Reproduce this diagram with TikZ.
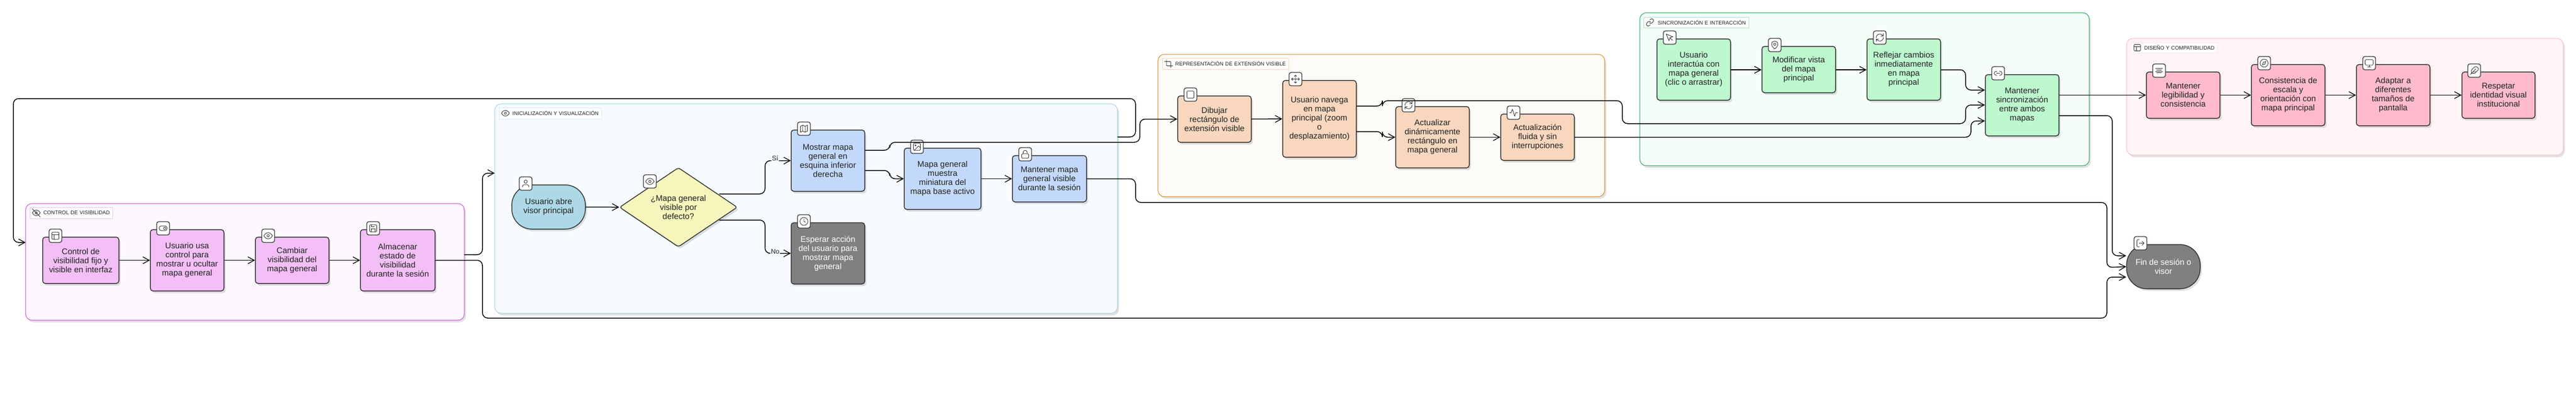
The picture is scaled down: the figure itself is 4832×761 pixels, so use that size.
\documentclass[tikz,border=0pt]{standalone}
\usepackage{fontspec}
\setmainfont{Liberation Sans}
\usetikzlibrary{arrows.meta,shapes.geometric,shadows,calc}
\definecolor{inkc}{HTML}{222222}
\definecolor{linec}{HTML}{333333}
\definecolor{ctrlS}{HTML}{D65FDB}\definecolor{ctrlF}{HTML}{FCF8FE}\definecolor{ctrlN}{HTML}{F3BFF6}
\definecolor{initS}{HTML}{ADD8E6}\definecolor{initF}{HTML}{F7FBFF}\definecolor{initN}{HTML}{C3D9FC}
\definecolor{startN}{HTML}{ADD8E6}\definecolor{decN}{HTML}{F5F5BC}\definecolor{greyN}{HTML}{808080}
\definecolor{extS}{HTML}{D99A3D}\definecolor{extF}{HTML}{FDFBF7}\definecolor{extN}{HTML}{F8D7BE}
\definecolor{synS}{HTML}{3CB371}\definecolor{synF}{HTML}{F5FDF8}\definecolor{synN}{HTML}{BDF8CE}
\definecolor{disS}{HTML}{FFC0CB}\definecolor{disF}{HTML}{FFF5F7}\definecolor{disN}{HTML}{FFBBCB}
\tikzset{
  softshadow/.style={drop shadow={shadow xshift=3pt,shadow yshift=-4pt,opacity=.12,fill=black}},
  groupbox/.style={draw=#1,line width=1.2pt,rounded corners=12pt,softshadow},
  tagbox/.style={draw=#1,line width=.6pt,fill=white,fill opacity=.85,text opacity=1,inner sep=0pt,inner xsep=5pt,
     text=inkc,font=\fontsize{9.8}{12}\selectfont,align=right,minimum height=21pt},
  procbox/.style={rectangle,draw=linec,line width=1.5pt,rounded corners=5pt,inner sep=0pt,align=center,
     text=inkc,font=\fontsize{15.4}{17}\selectfont,softshadow},
  stadium/.style={procbox,rounded corners=38pt},
  choice/.style={diamond,draw=linec,line width=1.5pt,rounded corners=4pt,inner sep=0pt,align=center,fill=decN,
     text=inkc,font=\fontsize{15.4}{17}\selectfont,softshadow},
  iconbox/.style={rectangle,draw=linec,line width=1.3pt,fill=white,rounded corners=4pt,inner sep=0pt,
     minimum width=24pt,minimum height=25pt},
  ic/.style={draw=linec,line width=.9pt,line join=round,line cap=round},
  edge/.style={draw=black,line width=1.5pt,rounded corners=10pt,-{Straight Barb[length=12pt,width=13pt,line width=1.3pt]}},
  edgelabel/.style={fill=initF,inner sep=1pt,text=inkc,font=\fontsize{12.5}{14}\selectfont},
}
% icons, in a 24-unit box
\newcommand{\icLayout}{\draw[ic,rounded corners=1.5pt] (3,3) rectangle (21,21);\draw[ic] (3,9)--(21,9) (9,9)--(9,21);}
\newcommand{\icToggle}{\draw[ic,rounded corners=4pt] (2,6) rectangle (22,18);\draw[ic] (16,12) circle[radius=3];}
\newcommand{\icEye}{\draw[ic] (1,12) .. controls (5,6) and (8,4) .. (12,4) .. controls (16,4) and (19,6) .. (23,12) .. controls (19,18) and (16,20) .. (12,20) .. controls (8,20) and (5,18) .. (1,12) -- cycle;\draw[ic] (12,12) circle[radius=3];}
\newcommand{\icEyeOff}{\icEye\draw[ic] (1,1)--(23,23);}
\newcommand{\icCrop}{\draw[ic] (6.13,1)--(6,16) .. controls (6,17) and (7,18) .. (8,18) -- (23,18) (1,6.13)--(16,6) .. controls (17,6) and (18,7) .. (18,8) -- (18,23);}
\newcommand{\icSave}{\draw[ic,rounded corners=1.5pt] (3,3) rectangle (21,21);\draw[ic] (7,21)--(7,13)--(17,13)--(17,21) (7,3)--(7,8)--(15,8);}
\newcommand{\icUser}{\draw[ic] (12,7) circle[radius=4];\draw[ic] (4,21) -- (4,19) .. controls (4,16.5) and (6,15) .. (8,15) -- (16,15) .. controls (18,15) and (20,16.5) .. (20,19) -- (20,21);}
\newcommand{\icMap}{\draw[ic] (3,6)--(9,3)--(15,6)--(21,3)--(21,18)--(15,21)--(9,18)--(3,21)--cycle (9,3)--(9,18) (15,6)--(15,21);}
\newcommand{\icImage}{\draw[ic,rounded corners=1.5pt] (3,3) rectangle (21,21);\draw[ic] (8.5,8.5) circle[radius=1.7];\draw[ic] (21,15)--(16,10)--(5,21);}
\newcommand{\icLock}{\draw[ic,rounded corners=1.5pt] (3,11) rectangle (21,22);\draw[ic] (7,11)--(7,7) .. controls (7,0.5) and (17,0.5) .. (17,7) -- (17,11);}
\newcommand{\icClock}{\draw[ic] (12,12) circle[radius=10];\draw[ic] (12,6)--(12,12)--(16,14);}
\newcommand{\icSquare}{\draw[ic,rounded corners=2pt] (3,3) rectangle (21,21);}
\newcommand{\icMove}{\draw[ic] (12,2)--(12,22) (2,12)--(22,12) (5,9)--(2,12)--(5,15) (9,5)--(12,2)--(15,5) (15,19)--(12,22)--(9,19) (19,9)--(22,12)--(19,15);}
\newcommand{\icRefresh}{\draw[ic] (21,2)--(21,8)--(15,8) (3,22)--(3,16)--(9,16);\draw[ic] (3,12) .. controls (3,7) and (7,3) .. (12,3) .. controls (14.5,3) and (16.5,4) .. (18,5.3) -- (21,8);\draw[ic] (21,12) .. controls (21,17) and (17,21) .. (12,21) .. controls (9.5,21) and (7.5,20) .. (6,18.7) -- (3,16);}
\newcommand{\icActivity}{\draw[ic] (22,12)--(18,12)--(15,21)--(9,3)--(6,12)--(2,12);}
\newcommand{\icPointer}{\draw[ic] (3,3)--(10.07,19.97)--(12.58,12.58)--(19.97,10.07)--cycle (13,13)--(19,19);}
\newcommand{\icPin}{\draw[ic] (12,22) .. controls (12,22) and (4,16) .. (4,10) .. controls (4,-0.7) and (20,-0.7) .. (20,10) .. controls (20,16) and (12,22) .. (12,22) -- cycle;\draw[ic] (12,10) circle[radius=3];}
\newcommand{\icLinkTwo}{\draw[ic] (9,17)--(7,17) .. controls (0.5,17) and (0.5,7) .. (7,7) -- (9,7) (15,7)--(17,7) .. controls (23.5,7) and (23.5,17) .. (17,17) -- (15,17) (8,12)--(16,12);}
\newcommand{\icLink}{\draw[ic] (10,13) .. controls (12,15.5) and (15.5,15.5) .. (17.5,13.5) -- (20.5,10.5) .. controls (25,5) and (18,-1) .. (13.5,3.5) -- (11.7,5.2);\draw[ic] (14,11) .. controls (12,8.5) and (8.5,8.5) .. (6.5,10.5) -- (3.5,13.5) .. controls (-1,19) and (6,25) .. (10.5,20.5) -- (12.3,18.8);}
\newcommand{\icAlign}{\draw[ic] (18,10)--(6,10) (21,6)--(3,6) (21,14)--(3,14) (18,18)--(6,18);}
\newcommand{\icCompass}{\draw[ic] (12,12) circle[radius=10];\draw[ic] (16.24,7.76)--(14.12,14.12)--(7.76,16.24)--(9.88,9.88)--cycle;}
\newcommand{\icMonitor}{\draw[ic,rounded corners=1.5pt] (2,3) rectangle (22,17);\draw[ic] (8,21)--(16,21) (12,17)--(12,21);}
\newcommand{\icFeather}{\draw[ic] (20.24,12.24) .. controls (23.5,9) and (23.5,6.5) .. (20.24,3.75) .. controls (17.5,1) and (15,1) .. (11.75,3.75) -- (5,10.5) -- (5,19) -- (13.5,19) -- cycle (16,8)--(2,22) (17.5,15)--(9,15);}
\newcommand{\icLogout}{\draw[ic] (9,21)--(5,21) .. controls (4,21) and (3,20) .. (3,19) -- (3,5) .. controls (3,4) and (4,3) .. (5,3) -- (9,3) (16,17)--(21,12)--(16,7) (21,12)--(9,12);}
% node helpers
\newcommand{\putstep}[7]{% name, style, x1,y1,x2,y2, text
  \pgfmathsetmacro{\myW}{#5-#3}\pgfmathsetmacro{\myH}{#6-#4}
  \pgfmathsetmacro{\myX}{(#3+#5)/2}\pgfmathsetmacro{\myY}{(#4+#6)/2}
  \node[#2,minimum width=\myW pt,minimum height=\myH pt] (#1) at (\myX,\myY) {#7};}
\newcommand{\puticon}[4]{% name, x1, y1, icon
  \pgfmathsetmacro{\myX}{#2+12}\pgfmathsetmacro{\myY}{#3+12.5}
  \node[iconbox] (#1) at (\myX,\myY) {};
  \begin{scope}[shift={(\myX,\myY)},x=.74pt,y=-.74pt,shift={(-12,-12)}]#4\end{scope}}
\newcommand{\puttag}[8]{% name, stroke, x1,y1,x2,y2, icon, text
  \pgfmathsetmacro{\myW}{#5-#3-10}\pgfmathsetmacro{\myH}{#6-#4}
  \pgfmathsetmacro{\myX}{(#3+#5)/2}\pgfmathsetmacro{\myY}{(#4+#6)/2}
  \node[tagbox=#2,text width=\myW pt,minimum height=\myH pt] (#1) at (\myX,\myY) {#8};
  \pgfmathsetmacro{\myX}{#3+12}
  \begin{scope}[shift={(\myX,\myY)},x=.68pt,y=-.68pt,shift={(-12,-12)}]#7\end{scope}}
\begin{document}
\begin{tikzpicture}[x=1pt,y=-1pt]
\useasboundingbox (0,0) rectangle (4832,761);
% groups
\path[groupbox=ctrlS,fill=ctrlF] (48,382) rectangle (871,601);
\path[groupbox=initS,fill=initF] (928,195) rectangle (2096,588);
\path[groupbox=extS,fill=extF] (2172,102) rectangle (3010,369);
\path[groupbox=synS,fill=synF] (3076,24) rectangle (3919,311);
\path[groupbox=disS,fill=disF] (3989,72) rectangle (4808,291);
\coordinate (ctrlIn) at (48,455);
\coordinate (ctrlOut) at (871,478);
\coordinate (initIn) at (928,325);
\coordinate (initOut) at (2096,257);
% tags
\puttag{tagCtrl}{ctrlS!40}{56}{389}{211}{410}{\icEyeOff}{CONTROL DE VISIBILIDAD}
\puttag{tagInit}{initS!50}{936}{202}{1128}{223}{\icEye}{INICIALIZACIÓN Y VISUALIZACIÓN}
\puttag{tagExt}{extS!40}{2180}{109}{2417}{130}{\icCrop}{REPRESENTACIÓN DE EXTENSIÓN VISIBLE}
\puttag{tagSyn}{synS!40}{3083}{32}{3280}{52}{\icLink}{SINCRONIZACIÓN E INTERACCIÓN}
\puttag{tagDis}{disS!40}{3997}{80}{4159}{99}{\icLayout}{DISEÑO Y COMPATIBILIDAD}
% control
\putstep{a1}{procbox,fill=ctrlN}{80}{445}{223}{532}{Control de\\visibilidad fijo y\\visible en interfaz}
\putstep{a2}{procbox,fill=ctrlN}{282}{431}{420}{546}{Usuario usa\\control para\\mostrar u ocultar\\mapa general}
\putstep{a3}{procbox,fill=ctrlN}{479}{445}{617}{532}{Cambiar\\visibilidad del\\mapa general}
\putstep{a4}{procbox,fill=ctrlN}{676}{431}{816}{546}{Almacenar\\estado de\\visibilidad\\durante la sesión}
% init
\putstep{start}{stadium,fill=startN}{960}{347}{1098}{430}{Usuario abre\\visor principal}
\putstep{dec}{choice}{1162}{317}{1383}{461}{¿Mapa general\\visible por\\defecto?}
\putstep{show}{procbox,fill=initN}{1484}{244}{1622}{359}{Mostrar mapa\\general en\\esquina inferior\\derecha}
\putstep{wait}{procbox,fill=greyN,text=white}{1484}{418}{1622}{533}{Esperar acción\\del usuario para\\mostrar mapa\\general}
\putstep{mini}{procbox,fill=initN}{1696}{278}{1840}{393}{Mapa general\\muestra\\miniatura del\\mapa base activo}
\putstep{keep}{procbox,fill=initN}{1899}{292}{2038}{379}{Mantener mapa\\general visible\\durante la sesión}
% extent
\putstep{draw}{procbox,fill=extN}{2209}{180}{2347}{267}{Dibujar\\rectángulo de\\extensión visible}
\putstep{nav}{procbox,fill=extN}{2406}{151}{2544}{295}{Usuario navega\\en mapa\\principal (zoom\\o\\desplazamiento)}
\putstep{upd}{procbox,fill=extN}{2618}{200}{2756}{315}{Actualizar\\dinámicamente\\rectángulo en\\mapa general}
\putstep{fluid}{procbox,fill=extN}{2815}{214}{2953}{301}{Actualización\\fluida y sin\\interrupciones}
% sync
\putstep{inter}{procbox,fill=synN}{3108}{73}{3246}{188}{Usuario\\interactúa con\\mapa general\\(clic o arrastrar)}
\putstep{modif}{procbox,fill=synN}{3305}{87}{3443}{174}{Modificar vista\\del mapa\\principal}
\putstep{refl}{procbox,fill=synN}{3502}{73}{3640}{188}{Reflejar cambios\\inmediatamente\\en mapa\\principal}
\putstep{sync}{procbox,fill=synN}{3724}{140}{3862}{255}{Mantener\\sincronización\\entre ambos\\mapas}
% design
\putstep{leg}{procbox,fill=disN}{4026}{135}{4164}{222}{Mantener\\legibilidad y\\consistencia}
\putstep{esc}{procbox,fill=disN}{4223}{121}{4361}{236}{Consistencia de\\escala y\\orientación con\\mapa principal}
\putstep{adap}{procbox,fill=disN}{4420}{121}{4558}{236}{Adaptar a\\diferentes\\tamaños de\\pantalla}
\putstep{resp}{procbox,fill=disN}{4618}{135}{4755}{222}{Respetar\\identidad visual\\institucional}
% end
\putstep{fin}{stadium,fill=greyN,text=white}{3989}{459}{4127}{542}{Fin de sesión o\\visor}
% icons
\puticon{ia1}{92}{430}{\icLayout}
\puticon{ia2}{294}{416}{\icToggle}
\puticon{ia3}{491}{430}{\icEye}
\puticon{ia4}{688}{416}{\icSave}
\puticon{istart}{974}{332}{\icUser}
\puticon{idec}{1207}{328}{\icEye}
\puticon{ishow}{1496}{229}{\icMap}
\puticon{iwait}{1496}{403}{\icClock}
\puticon{imini}{1708}{263}{\icImage}
\puticon{ikeep}{1911}{277}{\icLock}
\puticon{idraw}{2221}{165}{\icSquare}
\puticon{inav}{2418}{136}{\icMove}
\puticon{iupd}{2630}{185}{\icRefresh}
\puticon{ifluid}{2827}{199}{\icActivity}
\puticon{iinter}{3120}{58}{\icPointer}
\puticon{imodif}{3317}{72}{\icPin}
\puticon{irefl}{3514}{58}{\icRefresh}
\puticon{isync}{3736}{125}{\icLinkTwo}
\puticon{ileg}{4038}{120}{\icAlign}
\puticon{iesc}{4235}{106}{\icCompass}
\puticon{iadap}{4432}{106}{\icMonitor}
\puticon{iresp}{4629}{120}{\icFeather}
\puticon{ifin}{4003}{444}{\icLogout}
% connectors
\draw[edge] (a1)--(a2);
\draw[edge] (a2)--(a3);
\draw[edge] (a3)--(a4);
\draw[edge] (ctrlOut)--(905,478)--(905,325)--(initIn);
\draw[edge] (a4)--(905,0 |- a4.east)--(905,597)--(3952,597)--(3952,520)--(fin.west |- 0,520);
\draw[edge] (initOut)--(2130,257)--(2130,185)--(25,185)--(25,455)--(ctrlIn);
\draw[edge] (start)--(dec);
\draw[edge] (1349,364)--(1435,364)--(1435,0 |- show.west)--(show.west);
\draw[edge] (1349,413)--(1435,413)--(1435,0 |- wait.west)--(wait.west);
\node[edgelabel] (lsi) at (1454,297) {Sí};
\node[edgelabel] (lno) at (1454,472) {No};
\draw[edge] (show.east |- 0,282)--(1669,282)--(1669,267)--(2138,267)--(2138,0 |- draw.west)--(draw.west);
\draw[edge] (show.east |- 0,320)--(1669,320)--(1669,0 |- mini.west)--(mini.west);
\draw[edge] (mini)--(keep);
\draw[edge] (keep)--(2130,0 |- keep.east)--(2130,380)--(3952,380)--(3952,502)--(fin.west);
\draw[edge] (draw)--(nav);
\draw[edge] (nav.east |- 0,199)--(2593,199)--(2593,189)--(3043,189)--(3043,232)--(3687,232)--(3687,197)--(sync.west |- 0,197);
\draw[edge] (nav.east |- 0,247)--(2593,247)--(2593,0 |- upd.west)--(upd.west);
\draw[edge] (upd)--(fluid);
\draw[edge] (fluid)--(3697,0 |- fluid.east)--(3697,227)--(sync.west |- 0,227);
\draw[edge] (inter.east |- 0,131)--(modif.west |- 0,131);
\draw[edge] (modif.east |- 0,131)--(refl.west |- 0,131);
\draw[edge] (refl.east |- 0,131)--(3687,131)--(3687,169)--(sync.west |- 0,169);
\draw[edge] (sync.east |- leg.west)--(leg.west);
\draw[edge] (sync.east |- 0,217)--(3962,217)--(3962,480)--(fin.west |- 0,480);
\draw[edge] (leg)--(esc);
\draw[edge] (esc)--(adap);
\draw[edge] (adap)--(resp);
\end{tikzpicture}
\end{document}
